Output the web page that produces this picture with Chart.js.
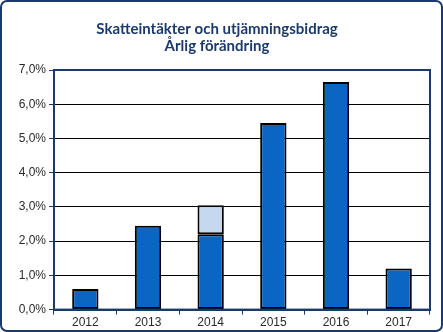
<!DOCTYPE html>
<html>
<head>
<meta charset="utf-8">
<script src="https://cdn.jsdelivr.net/npm/chart.js@4"></script>
<style>
  html, body { margin: 0; padding: 0; background: #fff; }
  #wrap { position: relative; width: 443px; height: 332px; }
  #frame { position: absolute; left: 0; top: 0; width: 443px; height: 332px; box-sizing: border-box;
           border: 2px solid #1b3a6b; border-radius: 7px; pointer-events: none; }
  canvas { position: absolute; left: 0; top: 0; }
</style>
</head>
<body>
<div id="wrap">
  <canvas id="taxChart" width="443" height="332"></canvas>
  <div id="frame"></div>
</div>
<script>
// Skatteintäkter och utjämningsbidrag, årlig förändring (%)
const years = ['2012', '2013', '2014', '2015', '2016', '2017'];
const baseChange = [0.6, 2.45, 2.2, 5.45, 6.65, 1.2];
const extraChange = [null, null, 0.85, null, null, null];
const yTicks = [0, 1, 2, 3, 4, 5, 6, 7];

const navy = '#1b3a6b';

// frame round the plot area
const plotFrame = {
    id: 'plotFrame',
    afterDatasetsDraw(chart) {
        const a = chart.chartArea;
        const ctx = chart.ctx;
        ctx.save();
        ctx.strokeStyle = navy;
        ctx.lineWidth = 2;
        ctx.strokeRect(a.left, a.top, a.right - a.left, a.bottom - a.top);
        ctx.restore();
    }
};

const ctx = document.getElementById('taxChart').getContext('2d');
const taxChart = new Chart(ctx, {
    type: 'bar',
    data: {
        labels: years,
        datasets: [
            {
                data: baseChange,
                backgroundColor: '#0a66c2',
                borderColor: '#000',
                borderWidth: 2,
                borderSkipped: false,
                barPercentage: 0.42,
                categoryPercentage: 1
            },
            {
                data: extraChange,
                backgroundColor: '#c6d8ef',
                borderColor: '#000',
                borderWidth: 2,
                borderSkipped: false,
                barPercentage: 0.42,
                categoryPercentage: 1
            }
        ]
    },
    options: {
        responsive: false,
        animation: false,
        layout: { padding: { left: 4, right: 13, top: 0, bottom: 1 } },
        plugins: {
            legend: { display: false },
            tooltip: { enabled: false },
            title: {
                display: true,
                text: ['Skatteintäkter och utjämningsbidrag', 'Årlig förändring'],
                color: navy,
                font: { family: 'Lato', size: 15, weight: 'bold', lineHeight: 1.1 },
                padding: { top: 21, bottom: 16 }
            }
        },
        scales: {
            x: {
                stacked: true,
                grid: { offset: true, drawOnChartArea: false, drawTicks: true, tickLength: 5, color: navy },
                border: { color: navy, width: 2 },
                ticks: { color: '#2a2a2a', font: { family: 'Liberation Sans', size: 12 }, padding: 1 }
            },
            y: {
                stacked: true,
                min: 0,
                max: 7,
                afterFit(scale) { scale.width = 50; },
                afterBuildTicks(scale) { scale.ticks = yTicks.map(v => ({ value: v })); },
                grid: { color: '#000', lineWidth: 1, tickLength: 5, tickColor: navy },
                border: { color: navy, width: 2 },
                ticks: {
                    color: '#2a2a2a',
                    font: { family: 'Liberation Sans', size: 12 },
                    padding: 3,
                    callback: v => v.toFixed(1).replace('.', ',') + '%'
                }
            }
        }
    },
    plugins: [plotFrame]
});
</script>
</body>
</html>
